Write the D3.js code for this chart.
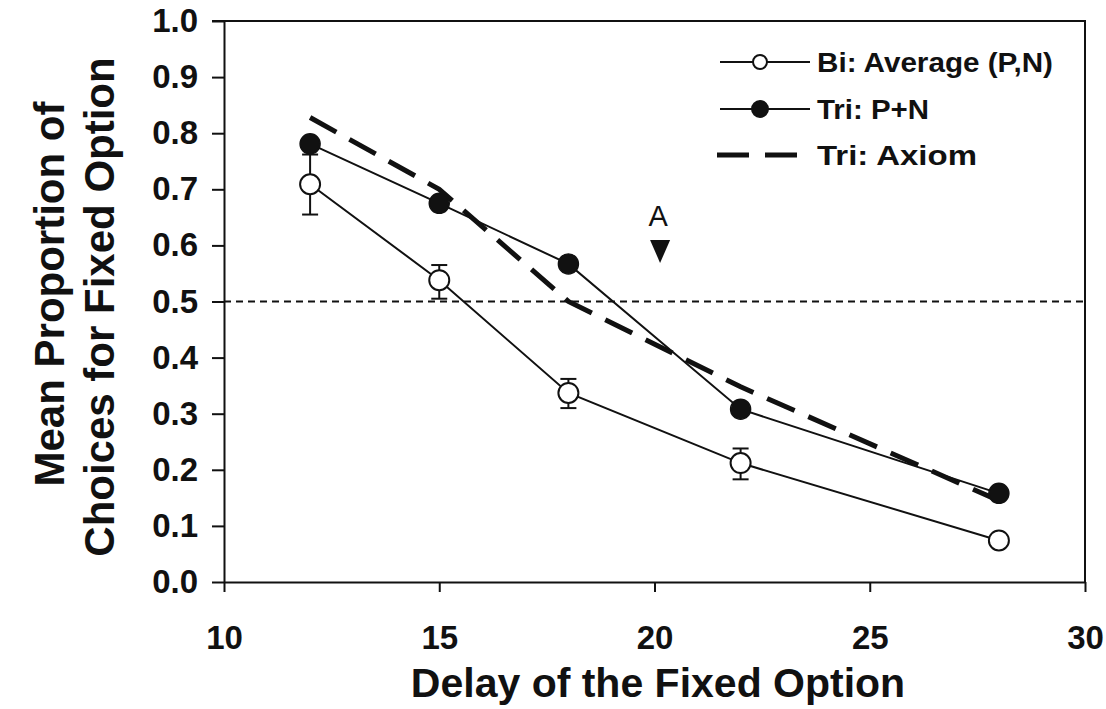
<!DOCTYPE html>
<html>
<head>
<meta charset="utf-8">
<script src="https://cdn.jsdelivr.net/npm/d3@7"></script>
<style>
  html, body { margin: 0; padding: 0; background: #fff; }
  svg { display: block; font-family: "Liberation Sans", Arial, sans-serif; }
</style>
</head>
<body>
<svg id="chart" width="1106" height="709"></svg>
<script>
// delays of the fixed option
const delays = [12, 15, 18, 22, 28];

// Bi: Average (P,N) with error bars
const biMean = [0.709, 0.538, 0.337, 0.212, 0.074];
const biLow  = [0.655, 0.505, 0.310, 0.183, 0.074];
const biHigh = [0.762, 0.565, 0.362, 0.238, 0.074];

// Tri: P+N
const triMean = [0.781, 0.675, 0.567, 0.308, 0.158];

// Tri: Axiom (dashed)
const axiom = [0.828, 0.700, 0.500, 0.348, 0.145];

const xTicks = [10, 15, 20, 25, 30];
const yTicks = [0, 0.1, 0.2, 0.3, 0.4, 0.5, 0.6, 0.7, 0.8, 0.9, 1.0];

const refLine = 0.5;
const marker = { x: 20.13, y: 0.59, label: "A" };

const legendItems = ["Bi: Average (P,N)", "Tri: P+N", "Tri: Axiom"];

const svg = d3.select("#chart");
const plotL = 224, plotR = 1085, plotT = 21, plotB = 582;

const x = d3.scaleLinear().domain([10, 30]).range([plotL, plotR]);
const y = d3.scaleLinear().domain([0, 1]).range([plotB, plotT]);

// frame (top and right sides)
svg.append("path")
  .attr("d", `M${plotL - 12},${plotT} H${plotR} V${plotB}`)
  .attr("fill", "none").attr("stroke", "#111").attr("stroke-width", 2);

// y axis
const yAxis = svg.append("g")
  .attr("transform", `translate(${plotL},0)`)
  .call(d3.axisLeft(y).tickValues(yTicks).tickSize(12).tickSizeOuter(0)
    .tickPadding(14).tickFormat(d3.format(".1f")));

// x axis
const xAxis = svg.append("g")
  .attr("transform", `translate(0,${plotB})`)
  .call(d3.axisBottom(x).tickValues(xTicks).tickSize(10).tickSizeOuter(0)
    .tickPadding(45).tickFormat(d3.format("d")));

[yAxis, xAxis].forEach(g => {
  g.select(".domain").attr("stroke", "#111").attr("stroke-width", 2);
  g.selectAll(".tick line").attr("stroke", "#111").attr("stroke-width", 2);
  g.selectAll(".tick text")
    .attr("fill", "#111")
    .style("font-family", "'Liberation Sans', Arial, sans-serif")
    .style("font-weight", "bold")
    .style("font-size", "33px");
});
xAxis.selectAll(".tick text").attr("dy", "0.35em");

// 0.5 reference line
svg.append("line")
  .attr("x1", plotL).attr("x2", plotR)
  .attr("y1", y(refLine)).attr("y2", y(refLine))
  .attr("stroke", "#111").attr("stroke-width", 2)
  .attr("stroke-dasharray", "7,5");

// Axiom dashed line
const line = d3.line().x(d => x(d[0])).y(d => y(d[1]));
svg.append("path")
  .datum(delays.map((d, i) => [d, axiom[i]]))
  .attr("d", line)
  .attr("fill", "none").attr("stroke", "#111")
  .attr("stroke-width", 5).attr("stroke-dasharray", "30,15");

// Tri line
svg.append("path")
  .datum(delays.map((d, i) => [d, triMean[i]]))
  .attr("d", line)
  .attr("fill", "none").attr("stroke", "#111").attr("stroke-width", 2);

// Bi line
svg.append("path")
  .datum(delays.map((d, i) => [d, biMean[i]]))
  .attr("d", line)
  .attr("fill", "none").attr("stroke", "#111").attr("stroke-width", 2);

// error bars for Bi
const eb = svg.append("g").attr("stroke", "#111").attr("stroke-width", 2);
delays.forEach((d, i) => {
  if (biHigh[i] === biLow[i]) return;
  const cx = x(d);
  eb.append("line").attr("x1", cx).attr("x2", cx).attr("y1", y(biLow[i])).attr("y2", y(biHigh[i]));
  eb.append("line").attr("x1", cx - 8).attr("x2", cx + 8).attr("y1", y(biLow[i])).attr("y2", y(biLow[i]));
  eb.append("line").attr("x1", cx - 8).attr("x2", cx + 8).attr("y1", y(biHigh[i])).attr("y2", y(biHigh[i]));
});

// markers
svg.append("g").selectAll("circle")
  .data(delays.map((d, i) => [d, triMean[i]]))
  .join("circle")
  .attr("cx", d => x(d[0])).attr("cy", d => y(d[1])).attr("r", 10)
  .attr("fill", "#111").attr("stroke", "#111").attr("stroke-width", 1.5);

svg.append("g").selectAll("circle")
  .data(delays.map((d, i) => [d, biMean[i]]))
  .join("circle")
  .attr("cx", d => x(d[0])).attr("cy", d => y(d[1])).attr("r", 10)
  .attr("fill", "#fff").attr("stroke", "#111").attr("stroke-width", 2);

// "A" marker
const mx = x(marker.x), my = y(marker.y);
svg.append("path")
  .attr("d", `M${mx - 10},${my - 11} L${mx + 10},${my - 11} L${mx},${my + 12} Z`)
  .attr("fill", "#111");
svg.append("text")
  .attr("x", mx - 2).attr("y", my - 25)
  .attr("text-anchor", "middle")
  .style("font-size", "29px").attr("fill", "#111")
  .text(marker.label);

// legend
const leg = svg.append("g");
const rowY = [62, 109, 155];
const textX = 817;
const textLens = [236, 112, 160];
legendItems.forEach((t, i) => {
  const yy = rowY[i];
  if (i < 2) {
    leg.append("line").attr("x1", 720).attr("x2", 810).attr("y1", yy).attr("y2", yy)
      .attr("stroke", "#111").attr("stroke-width", 2);
    leg.append("circle").attr("cx", 760).attr("cy", yy).attr("r", i === 0 ? 7 : 8)
      .attr("fill", i === 0 ? "#fff" : "#111").attr("stroke", "#111").attr("stroke-width", 2);
  } else {
    leg.append("line").attr("x1", 717).attr("x2", 800).attr("y1", yy).attr("y2", yy)
      .attr("stroke", "#111").attr("stroke-width", 5).attr("stroke-dasharray", "32,16");
  }
  leg.append("text")
    .attr("x", textX).attr("y", yy).attr("dy", "0.36em")
    .style("font-size", "27px").style("font-weight", "bold").attr("fill", "#111")
    .attr("textLength", textLens[i]).attr("lengthAdjust", "spacingAndGlyphs")
    .text(t);
});

// axis titles
svg.append("text")
  .attr("x", 658).attr("y", 697)
  .attr("text-anchor", "middle")
  .style("font-size", "41px").style("font-weight", "bold").attr("fill", "#111")
  .text("Delay of the Fixed Option");

svg.append("text")
  .attr("transform", "translate(64,294) rotate(-90)")
  .attr("text-anchor", "middle")
  .style("font-size", "42px").style("font-weight", "bold").attr("fill", "#111")
  .text("Mean Proportion of");

svg.append("text")
  .attr("transform", "translate(114,307) rotate(-90)")
  .attr("text-anchor", "middle")
  .style("font-size", "42px").style("font-weight", "bold").attr("fill", "#111")
  .text("Choices for Fixed Option");
</script>
</body>
</html>
